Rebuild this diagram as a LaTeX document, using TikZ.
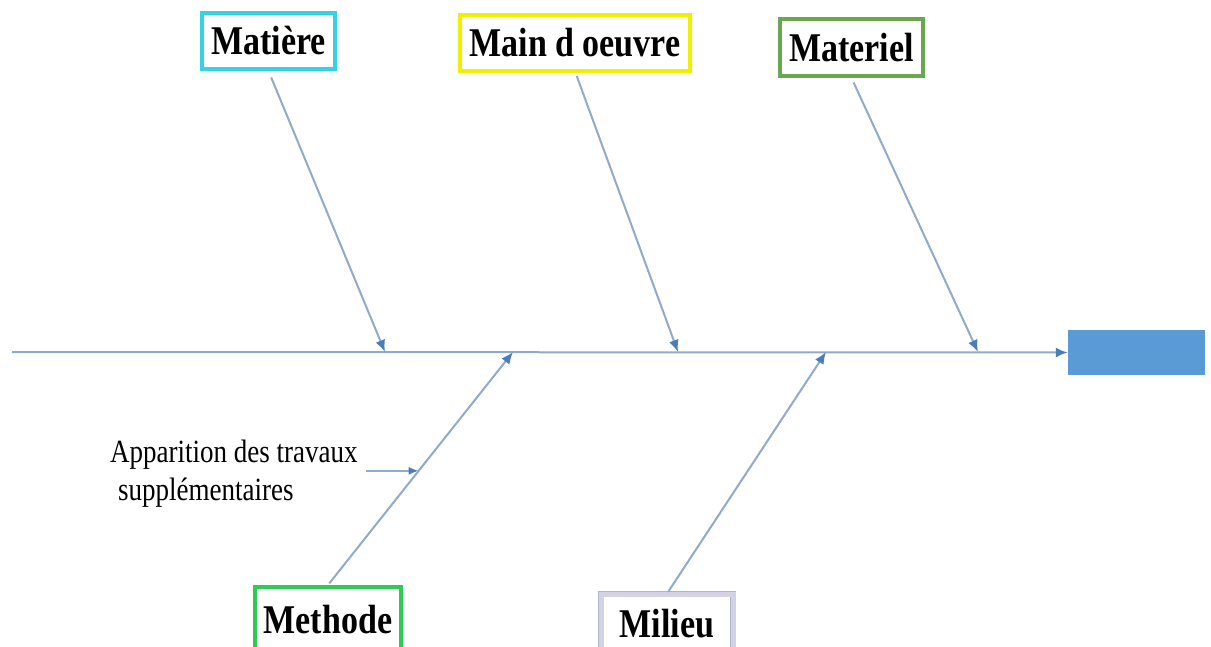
\documentclass[tikz,border=0pt]{standalone}
\usepackage{fontspec}
\setmainfont{Liberation Serif}
\usetikzlibrary{arrows.meta,calc}

\definecolor{bonecol}{HTML}{8FABC9}
\definecolor{tipcol}{HTML}{4A7EBB}
\definecolor{headcol}{HTML}{5B9BD5}
\definecolor{cyanbox}{HTML}{33D3E3}
\definecolor{yellowbox}{HTML}{EEF000}
\definecolor{olivebox}{HTML}{6AA84F}
\definecolor{greenbox}{HTML}{2ECC55}
\definecolor{lavbox}{HTML}{D6D2E6}
\definecolor{lavline}{HTML}{A8B6CE}

% tall bold label text
\newcommand{\tallbf}[1]{\scalebox{1}[1.2]{\bfseries #1}}

\tikzset{
  cause/.style={fill=white, line width=4pt, inner sep=0pt, align=center,
    font=\fontsize{34}{36}\selectfont},
  bone/.style={draw=bonecol, line width=2pt,
    -{Latex[length=12pt,width=10pt,color=tipcol]}},
}

\begin{document}
\begin{tikzpicture}[x=1pt,y=-1pt]
  \useasboundingbox (0,0) rectangle (1211,647);
  \clip (0,0) rectangle (1211,647);
  \fill[white] (0,0) rectangle (1211,647);

  % effect box at the head of the spine
  \node[fill=headcol, minimum width=137pt, minimum height=45pt, inner sep=0pt]
    (head) at (1136.5,352.5) {};

  % cause boxes
  \node[cause, draw=cyanbox, minimum width=133pt, minimum height=56pt]
    (matiere) at (268.5,41) {\tallbf{Matière}};
  \node[cause, draw=lavline!80!gray, line width=0.7pt, double=yellowbox,
    double distance=3.5pt, minimum width=230pt, minimum height=56pt]
    (main) at (575,43) {\tallbf{Main d oeuvre}};
  \node[cause, draw=olivebox, minimum width=143pt, minimum height=57pt]
    (materiel) at (851.5,47.5) {\tallbf{Materiel}};
  \node[cause, draw=greenbox, minimum width=146pt, minimum height=66pt]
    (methode) at (328,620) {\tallbf{Methode}};
  \node[cause, draw=lavline, line width=0.8pt, double=lavbox,
    double distance=5pt, minimum width=132pt, minimum height=60pt]
    (milieu) at (667,624) {\tallbf{Milieu}};

  % spine and junctions
  \coordinate (tail) at (12,352);
  \coordinate (j1) at (385,352);
  \coordinate (j2) at (513,352);
  \coordinate (j3) at (678,352);
  \coordinate (j4) at (826,352);
  \coordinate (j5) at (978,352);
  \draw[bone] (tail) -- (head.west);

  % bones
  \draw[bone, shorten <=7pt] (matiere.south) -- (j1);
  \draw[bone, shorten <=5pt] (main.south) -- (j3);
  \draw[bone, shorten <=5pt] (materiel.south) -- (j5);
  \draw[bone, shorten <=2pt] (methode.north) -- (j2);
  \draw[bone, shorten <=2pt] (milieu.north) -- (j4);

  % sub-cause on the Methode bone
  \node[anchor=west, inner sep=0pt, font=\fontsize{27}{32}\selectfont]
    (sub) at (110,474)
    {\scalebox{1}[1.2]{\begin{tabular}{@{}l@{}}Apparition des travaux\\
      \hspace{8pt}supplémentaires\end{tabular}}};
  \coordinate (mb) at ($(methode.north)!0.49!(j2)$);
  \draw[bone, line width=1.8pt, -{Latex[length=10pt,width=8pt,color=tipcol]}]
    ([xshift=8pt]sub.east |- mb) -- (mb);
\end{tikzpicture}
\end{document}
